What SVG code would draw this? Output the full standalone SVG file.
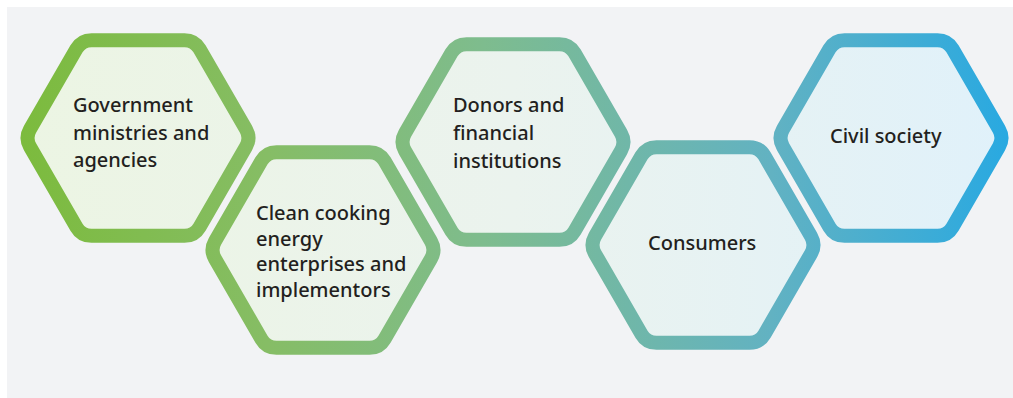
<svg xmlns="http://www.w3.org/2000/svg" width="1013" height="398" viewBox="0 0 1013 398">
<defs>
<linearGradient id="gs" gradientUnits="userSpaceOnUse" x1="20" y1="0" x2="1008" y2="0">
<stop offset="0" stop-color="#7cbb3d"/>
<stop offset="0.25" stop-color="#86bd65"/>
<stop offset="0.47" stop-color="#7ebc8e"/>
<stop offset="0.76" stop-color="#62b2c2"/>
<stop offset="1" stop-color="#29a9e1"/>
</linearGradient>
<linearGradient id="gf" gradientUnits="userSpaceOnUse" x1="20" y1="0" x2="1008" y2="0">
<stop offset="0" stop-color="#ecf5e3"/>
<stop offset="0.5" stop-color="#ebf3ee"/>
<stop offset="1" stop-color="#e0f1fa"/>
</linearGradient>
</defs>
<style>
.hex{fill:url(#gf);stroke:url(#gs);stroke-width:14;stroke-linejoin:round}
.t{font-family:"Noto Sans","Open Sans",sans-serif;font-size:20px;font-weight:500;fill:#231f20}
</style>
<rect x="7" y="7" width="1006" height="391" fill="#f2f3f5"/>
<g id="connectors"/>
<g id="n1">
<path class="hex" d="M246,146.66 L199.5,227.2 Q194.5,235.86 184.5,235.86 L91.5,235.86 Q81.5,235.86 76.5,227.2 L30,146.66 Q25,138 30,129.34 L76.5,48.8 Q81.5,40.14 91.5,40.14 L184.5,40.14 Q194.5,40.14 199.5,48.8 L246,129.34 Q251,138 246,146.66 Z"/>
<text class="t" x="73" y="112">Government</text>
<text class="t" x="73" y="140">ministries and</text>
<text class="t" x="73" y="167">agencies</text>
</g>
<g id="n2">
<path class="hex" d="M431,258.66 L384.5,339.2 Q379.5,347.86 369.5,347.86 L276.5,347.86 Q266.5,347.86 261.5,339.2 L215,258.66 Q210,250 215,241.34 L261.5,160.8 Q266.5,152.14 276.5,152.14 L369.5,152.14 Q379.5,152.14 384.5,160.8 L431,241.34 Q436,250 431,258.66 Z"/>
<text class="t" x="256" y="220">Clean cooking</text>
<text class="t" x="256" y="246">energy</text>
<text class="t" x="256" y="271">enterprises and</text>
<text class="t" x="256" y="297">implementors</text>
</g>
<g id="n3">
<path class="hex" d="M621,150.66 L574.5,231.2 Q569.5,239.86 559.5,239.86 L466.5,239.86 Q456.5,239.86 451.5,231.2 L405,150.66 Q400,142 405,133.34 L451.5,52.8 Q456.5,44.14 466.5,44.14 L559.5,44.14 Q569.5,44.14 574.5,52.8 L621,133.34 Q626,142 621,150.66 Z"/>
<text class="t" x="453" y="112">Donors and</text>
<text class="t" x="453" y="140">financial</text>
<text class="t" x="453" y="168">institutions</text>
</g>
<g id="n4">
<path class="hex" d="M811,253.66 L764.5,334.2 Q759.5,342.86 749.5,342.86 L656.5,342.86 Q646.5,342.86 641.5,334.2 L595,253.66 Q590,245 595,236.34 L641.5,155.8 Q646.5,147.14 656.5,147.14 L749.5,147.14 Q759.5,147.14 764.5,155.8 L811,236.34 Q816,245 811,253.66 Z"/>
<text class="t" x="648" y="250">Consumers</text>
</g>
<g id="n5">
<path class="hex" d="M999,146.66 L952.5,227.2 Q947.5,235.86 937.5,235.86 L844.5,235.86 Q834.5,235.86 829.5,227.2 L783,146.66 Q778,138 783,129.34 L829.5,48.8 Q834.5,40.14 844.5,40.14 L937.5,40.14 Q947.5,40.14 952.5,48.8 L999,129.34 Q1004,138 999,146.66 Z"/>
<text class="t" x="830" y="143">Civil society</text>
</g>
</svg>
